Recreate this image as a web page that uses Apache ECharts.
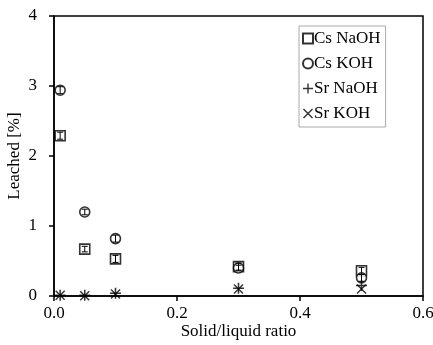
<!DOCTYPE html>
<html>
<head>
<meta charset="utf-8">
<script src="https://cdn.jsdelivr.net/npm/echarts@6/dist/echarts.min.js"></script>
<style>
html,body{margin:0;padding:0;background:#fff;}
#chart{width:433px;height:345px;}
</style>
</head>
<body>
<div id="chart"></div>
<script>
// solid/liquid ratios and leached percentages
var ratios = [0.01, 0.05, 0.1, 0.3, 0.5];
var csNaOH = [2.29, 0.67, 0.53, 0.42, 0.36];
var csKOH = [2.94, 1.20, 0.82, 0.40, 0.26];
var srNaOH = [0.01, 0.01, 0.04, 0.11, 0.15];
var srKOH = [0.01, 0.005, 0.03, 0.10, 0.10];
var csNaOHErr = [0.05, 0.04, 0.05, 0.05, 0.05];
var csKOHErr = [0.05, 0.04, 0.05, 0.04, 0.05];
var seriesNames = ['Cs NaOH', 'Cs KOH', 'Sr NaOH', 'Sr KOH'];

var plusPath = 'path://M4.3,0H5.7V10H4.3Z M0,4.3H10V5.7H0Z';
var crossPath = 'path://M0,1L1,0L10,9L9,10Z M9,0L10,1L1,10L0,9Z';
var font = 'Liberation Serif';

function pairs(xs, ys) {
    var out = [];
    for (var i = 0; i < xs.length; i++) out.push([xs[i], ys[i]]);
    return out;
}
function triples(xs, ys, es) {
    var out = [];
    for (var i = 0; i < xs.length; i++) out.push([xs[i], ys[i], es[i]]);
    return out;
}

function errBar(params, api) {
    var x = api.value(0), y = api.value(1), e = api.value(2);
    var lo = api.coord([x, y - e]);
    var hi = api.coord([x, y + e]);
    var w = 3;
    var st = {stroke: '#000', lineWidth: 1};
    return {
        type: 'group',
        children: [
            {type: 'line', shape: {x1: lo[0], y1: lo[1], x2: hi[0], y2: hi[1]}, style: st},
            {type: 'line', shape: {x1: lo[0] - w, y1: lo[1], x2: lo[0] + w, y2: lo[1]}, style: st},
            {type: 'line', shape: {x1: hi[0] - w, y1: hi[1], x2: hi[0] + w, y2: hi[1]}, style: st}
        ]
    };
}

var chart = echarts.init(document.getElementById('chart'));
var option = {
    animation: false,
    textStyle: {fontFamily: font},
    grid: {
        left: 54, right: 10, top: 16, bottom: 49,
        containLabel: false, outerBoundsMode: 'none',
        show: true, borderColor: '#000', borderWidth: 1.5
    },
    legend: {
        orient: 'vertical',
        left: 299, top: 26,
        data: seriesNames,
        itemWidth: 10, itemHeight: 10, itemGap: 8,
        padding: [4, 5, 5, 3],
        borderColor: '#aaa', borderWidth: 1,
        backgroundColor: '#fff',
        textStyle: {fontFamily: font, fontSize: 17, color: '#000', padding: [0, 0, 0, -4]}
    },
    xAxis: {
        type: 'value', min: 0, max: 0.6, interval: 0.2,
        name: 'Solid/liquid ratio', nameLocation: 'middle', nameGap: 27,
        nameMoveOverlap: false,
        nameTextStyle: {fontFamily: font, fontSize: 17, color: '#000'},
        axisLine: {lineStyle: {color: '#000', width: 1.5}},
        axisTick: {length: 5, lineStyle: {color: '#000', width: 1.5}},
        axisLabel: {fontFamily: font, fontSize: 17, color: '#000', margin: 9,
            formatter: function (v) { return v.toFixed(1); }},
        splitLine: {show: false}
    },
    yAxis: {
        type: 'value', min: 0, max: 4, interval: 1,
        name: 'Leached [%]', nameLocation: 'middle', nameGap: 31,
        nameMoveOverlap: false,
        nameTextStyle: {fontFamily: font, fontSize: 17, color: '#000'},
        axisLine: {show: true, lineStyle: {color: '#000', width: 1.5}},
        axisTick: {show: true, length: 5, lineStyle: {color: '#000', width: 1.5}},
        axisLabel: {fontFamily: font, fontSize: 17, color: '#000', margin: 17},
        splitLine: {show: false}
    },
    series: [
        {
            name: 'Cs NaOH', type: 'scatter', clip: false, z: 3,
            symbol: 'rect', symbolSize: 10,
            itemStyle: {color: '#fff', borderColor: '#000', borderWidth: 1.6},
            data: pairs(ratios, csNaOH)
        },
        {
            name: 'Cs KOH', type: 'scatter', clip: false, z: 3,
            symbol: 'circle', symbolSize: 10,
            itemStyle: {color: '#fff', borderColor: '#000', borderWidth: 1.6},
            data: pairs(ratios, csKOH)
        },
        {
            name: 'Sr NaOH', type: 'scatter', clip: false, z: 4,
            symbol: plusPath, symbolSize: 11,
            itemStyle: {color: '#000'},
            data: pairs(ratios, srNaOH)
        },
        {
            name: 'Sr KOH', type: 'scatter', clip: false, z: 4,
            symbol: crossPath, symbolSize: 10,
            itemStyle: {color: '#000'},
            data: pairs(ratios, srKOH)
        },
        {
            type: 'custom', z: 5, clip: false,
            renderItem: errBar,
            data: triples(ratios, csNaOH, csNaOHErr)
        },
        {
            type: 'custom', z: 5, clip: false,
            renderItem: errBar,
            data: triples(ratios, csKOH, csKOHErr)
        }
    ]
};
chart.setOption(option);
</script>
</body>
</html>
